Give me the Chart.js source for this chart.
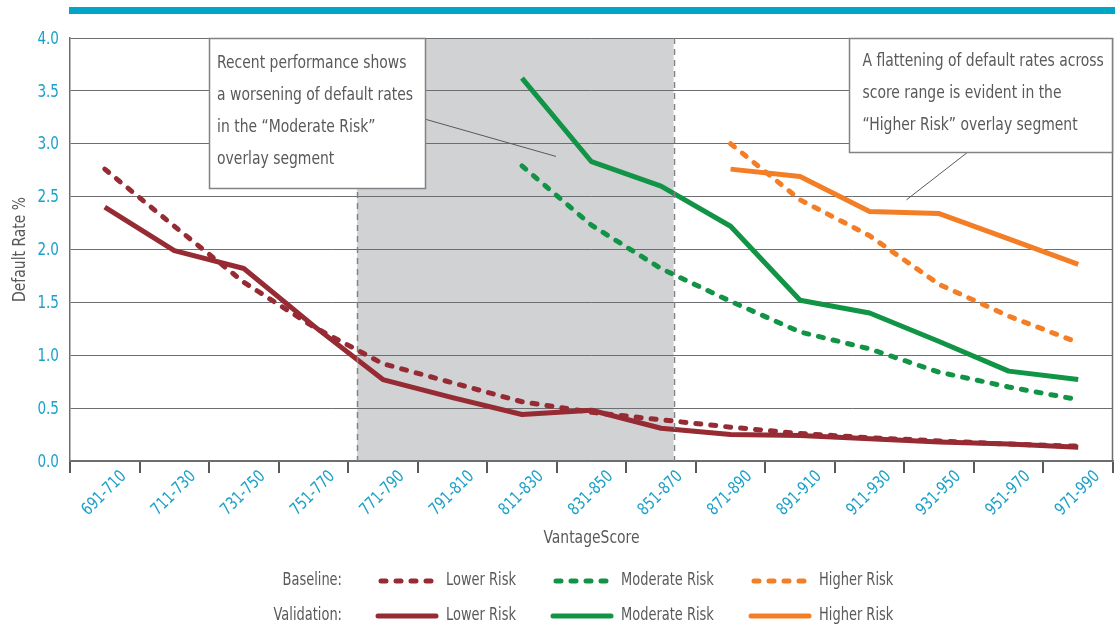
<!DOCTYPE html>
<html lang="en">
<head>
<meta charset="UTF-8">
<title>Default Rate by VantageScore</title>
<script src="https://cdn.jsdelivr.net/npm/chart.js"></script>
<style>
  html, body { margin: 0; padding: 0; background: #fff; }
</style>
</head>
<body>
<canvas id="rateChart" width="1115" height="626"></canvas>
<script>
// score bands on the x axis
const scoreBands = ['691-710', '711-730', '731-750', '751-770', '771-790', '791-810', '811-830',
  '831-850', '851-870', '871-890', '891-910', '911-930', '931-950', '951-970', '971-990'];

// default rate % per band, baseline (dashed) and validation (solid)
const lowerBaseline = [2.76, 2.22, 1.69, 1.27, 0.92, 0.74, 0.56, 0.46, 0.39, 0.32, 0.26, 0.22, 0.19, 0.16, 0.14];
const lowerValidation = [2.40, 1.99, 1.82, 1.28, 0.77, 0.60, 0.44, 0.48, 0.31, 0.25, 0.24, 0.21, 0.18, 0.16, 0.13];
const moderateBaseline = [null, null, null, null, null, null, 2.79, 2.23, 1.82, 1.51, 1.22, 1.06, 0.84, 0.70, 0.58];
const moderateValidation = [null, null, null, null, null, null, 3.62, 2.83, 2.60, 2.22, 1.52, 1.40, 1.13, 0.85, 0.77];
const higherBaseline = [null, null, null, null, null, null, null, null, null, 3.00, 2.47, 2.13, 1.67, 1.37, 1.12];
const higherValidation = [null, null, null, null, null, null, null, null, null, 2.76, 2.69, 2.36, 2.34, 2.10, 1.86];

const yTicks = [0, 0.5, 1.0, 1.5, 2.0, 2.5, 3.0, 3.5, 4.0];

const noteLeft = ['Recent performance shows', 'a worsening of default rates', 'in the \u201cModerate Risk\u201d', 'overlay segment'];
const noteRight = ['A flattening of default rates across', 'score range is evident in the', '\u201cHigher Risk\u201d overlay segment'];

const FONT = "'Liberation Sans Narrow', 'DejaVu Sans Condensed', 'Roboto', sans-serif";
const TEAL = '#1BA1C9';
const GRAY = '#58595B';
const GRID = '#6D6E71';
const RED = '#962B33';
const GREEN = '#129446';
const ORANGE = '#F37E26';
const DASH = [5, 10];

function series(label, data, color, dashed) {
    return {
        label: label,
        data: data,
        borderColor: color,
        backgroundColor: color,
        borderWidth: 5,
        borderDash: dashed ? DASH : [],
        borderCapStyle: dashed ? 'round' : 'butt',
        borderJoinStyle: 'round',
        pointRadius: 0,
        tension: 0,
        fill: false
    };
}

// narrow lettering: draw the text squeezed horizontally
function narrowText(ctx, text, x, y, o) {
    ctx.save();
    ctx.translate(x, y);
    if (o.rotate) ctx.rotate(o.rotate);
    ctx.scale(o.squeeze, 1);
    ctx.font = `${o.size}px ${FONT}`;
    ctx.fillStyle = o.color || GRAY;
    ctx.textAlign = o.align || 'left';
    ctx.textBaseline = 'middle';
    ctx.fillText(text, 0, 0);
    ctx.restore();
}

function drawNote(ctx, lines, box, leader, inset, firstLine) {
    ctx.save();
    ctx.strokeStyle = '#58595B';
    ctx.lineWidth = 1;
    ctx.beginPath();
    ctx.moveTo(leader[0], leader[1]);
    ctx.lineTo(leader[2], leader[3]);
    ctx.stroke();
    ctx.fillStyle = '#fff';
    ctx.fillRect(box.l, box.t, box.r - box.l, box.b - box.t);
    ctx.strokeStyle = '#808285';
    ctx.lineWidth = 1.5;
    ctx.strokeRect(Math.round(box.l) + 0.5, Math.round(box.t) + 0.5, Math.round(box.r - box.l) - 1, Math.round(box.b - box.t));
    ctx.restore();
    lines.forEach((t, i) => narrowText(ctx, t, box.l + inset, box.t + firstLine + i * 32, { size: 18, squeeze: 0.86 }));
}

// grey overlay band, notes, frame, top rule, axis lettering and the legend
const decorations = {
    id: 'decorations',
    beforeDraw(chart) {
        const { ctx, chartArea: a, scales: { x } } = chart;
        const x0 = x.getPixelForValue(3.63);
        const x1 = x.getPixelForValue(8.18);
        ctx.save();
        ctx.fillStyle = '#D1D2D4';
        ctx.fillRect(x0, a.top, x1 - x0, a.bottom - a.top);
        ctx.restore();
    },
    afterDatasetsDraw(chart) {
        const { ctx, chartArea: a, scales: { x, y } } = chart;
        const x0 = x.getPixelForValue(3.63);
        const x1 = x.getPixelForValue(8.18);

        // dashed edges of the band
        ctx.save();
        ctx.strokeStyle = '#808285';
        ctx.lineWidth = 1.5;
        ctx.setLineDash([6, 5]);
        [x0, x1].forEach(px => {
            ctx.beginPath();
            ctx.moveTo(Math.round(px) + 0.5, a.top);
            ctx.lineTo(Math.round(px) + 0.5, a.bottom);
            ctx.stroke();
        });
        ctx.restore();

        // right frame edge
        ctx.save();
        ctx.strokeStyle = GRID;
        ctx.lineWidth = 1.5;
        ctx.beginPath();
        ctx.moveTo(a.right - 0.5, a.top);
        ctx.lineTo(a.right - 0.5, a.bottom);
        ctx.stroke();
        ctx.restore();

        // top rule
        ctx.save();
        ctx.fillStyle = '#00A6C7';
        ctx.fillRect(a.left - 1, 7, chart.width - a.left + 1, 7);
        ctx.restore();

        drawNote(ctx, noteLeft,
            { l: x.getPixelForValue(1.50), r: x.getPixelForValue(4.62), t: y.getPixelForValue(4), b: y.getPixelForValue(2.58) },
            [x.getPixelForValue(4.62), y.getPixelForValue(3.23), x.getPixelForValue(6.49), y.getPixelForValue(2.88)], 8, 25);
        drawNote(ctx, noteRight,
            { l: x.getPixelForValue(10.71), r: a.right, t: y.getPixelForValue(4), b: y.getPixelForValue(2.92) },
            [x.getPixelForValue(12.41), y.getPixelForValue(2.92), x.getPixelForValue(11.53), y.getPixelForValue(2.47)], 13, 23);
    },
    afterDraw(chart) {
        const { ctx, chartArea: a, scales: { x, y } } = chart;

        // tick labels from the scales
        x.ticks.forEach((t, i) => {
            narrowText(ctx, x.getLabelForValue(t.value), x.getPixelForTick(i) + 19, a.bottom + 13,
                { size: 17, squeeze: 0.86, color: TEAL, align: 'right', rotate: -Math.PI / 4 });
        });
        y.ticks.forEach((t, i) => {
            narrowText(ctx, Number(t.value).toFixed(1), a.left - 11, y.getPixelForTick(i) + 1,
                { size: 18, squeeze: 0.84, color: TEAL, align: 'right' });
        });

        // axis titles
        narrowText(ctx, 'VantageScore', (a.left + a.right) / 2, 538, { size: 18, squeeze: 0.86, align: 'center' });
        narrowText(ctx, 'Default Rate %', 20, (a.top + a.bottom) / 2, { size: 18, squeeze: 0.86, align: 'center', rotate: -Math.PI / 2 });

        // legend: two rows, baseline and validation
        const sets = chart.data.datasets;
        const rows = [
            { title: 'Baseline:', y: 581, idx: [0, 2, 4] },
            { title: 'Validation:', y: 616, idx: [1, 3, 5] }
        ];
        const cols = [378, 553, 751];
        rows.forEach(row => {
            narrowText(ctx, row.title, 342, row.y, { size: 17, squeeze: 0.85, align: 'right' });
            row.idx.forEach((di, c) => {
                const ds = sets[di];
                const lx = cols[c];
                const dashed = ds.borderDash.length > 0;
                ctx.save();
                ctx.strokeStyle = ds.borderColor;
                ctx.lineWidth = 5;
                ctx.lineCap = 'round';
                ctx.setLineDash(ds.borderDash);
                ctx.beginPath();
                ctx.moveTo(lx + (dashed ? 3 : 0), row.y);
                ctx.lineTo(lx + 58, row.y);
                ctx.stroke();
                ctx.restore();
                narrowText(ctx, ds.label, lx + 68, row.y, { size: 17, squeeze: 0.85 });
            });
        });
    }
};

const ctx = document.getElementById('rateChart').getContext('2d');
new Chart(ctx, {
    type: 'line',
    data: {
        labels: scoreBands,
        datasets: [
            series('Lower Risk', lowerBaseline, RED, true),
            series('Lower Risk', lowerValidation, RED, false),
            series('Moderate Risk', moderateBaseline, GREEN, true),
            series('Moderate Risk', moderateValidation, GREEN, false),
            series('Higher Risk', higherBaseline, ORANGE, true),
            series('Higher Risk', higherValidation, ORANGE, false)
        ]
    },
    options: {
        responsive: false,
        animation: false,
        layout: { padding: { top: 38, right: 2, bottom: 74, left: 0 } },
        plugins: {
            legend: { display: false },
            tooltip: { enabled: false }
        },
        scales: {
            x: {
                offset: true,
                grid: { offset: true, drawOnChartArea: false, drawTicks: true, tickLength: 12, color: GRAY, lineWidth: 2 },
                border: { color: GRID, width: 1.5 },
                ticks: { autoSkip: false, display: false },
                afterFit: s => { s.height = 91; }
            },
            y: {
                min: 0, max: 4,
                afterBuildTicks: s => { s.ticks = yTicks.map(v => ({ value: v })); },
                ticks: { display: false },
                grid: { color: GRID, lineWidth: 1, drawTicks: false },
                border: { color: GRID, width: 1.5 },
                afterFit: s => { s.width = 70; }
            }
        }
    },
    plugins: [decorations]
});
</script>
</body>
</html>
